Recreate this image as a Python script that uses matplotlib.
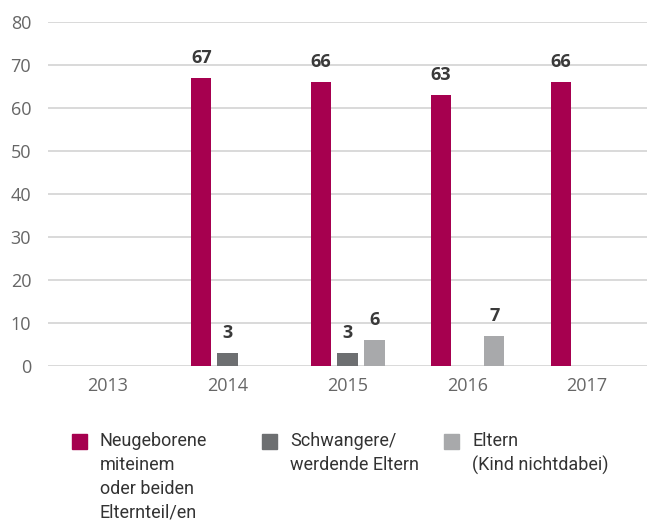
import matplotlib.pyplot as plt
from matplotlib.patches import Rectangle
import numpy as np

years = ['2013', '2014', '2015', '2016', '2017']
neugeborene = [0, 67, 66, 63, 66]
schwangere = [0, 3, 3, 0, 0]
eltern = [0, 0, 6, 7, 0]

labels = ['Neugeborene\nmiteinem\noder beiden\nElternteil/en',
          'Schwangere/\nwerdende Eltern',
          'Eltern\n(Kind nichtdabei)']
colors = ['#A6004F', '#6D6F71', '#A8A9AB']

plt.rcParams['font.family'] = ['Open Sans', 'DejaVu Sans']

fig = plt.figure(figsize=(6.47, 5.21), dpi=100)
ax = fig.add_axes([0.074, 0.2975, 0.926, 0.6605])

x = np.arange(len(years))
w = 0.17
offs = [-0.22, 0, 0.225]
for vals, off, c in zip([neugeborene, schwangere, eltern], offs, colors):
    for xi, v in zip(x, vals):
        if v == 0:
            continue
        ax.bar(xi + off, v, width=w, color=c, zorder=3)
        ax.annotate(str(v), (xi + off, v), xytext=(0, 8), textcoords='offset points',
                    ha='center', va='bottom', fontsize=13, fontweight='bold', color='#3a3a3a')

ax.set_xlim(-0.5, 4.5)
ax.set_ylim(0, 80)
ax.set_yticks(range(0, 81, 10))
ax.set_xticks(x)
ax.set_xticklabels(years)
ax.grid(axis='y', color='#D9D9D9', linewidth=1.4, zorder=0)
for s in ax.spines.values():
    s.set_visible(False)
ax.tick_params(length=0, labelsize=13, labelcolor='#666666')
ax.tick_params(axis='y', pad=12)
ax.tick_params(axis='x', pad=8)

# legend drawn by hand so the squares sit next to the first line
legend_x = [0.111, 0.405, 0.687]
for lx, lab, c in zip(legend_x, labels, colors):
    fig.add_artist(Rectangle((lx, 0.138), 0.023, 0.029, transform=fig.transFigure,
                             color=c))
    fig.text(lx + 0.043, 0.171, lab, ha='left', va='top', fontsize=13,
             color='#333333', linespacing=1.42,
             family=['Roboto', 'DejaVu Sans'])

fig.savefig('out.png', dpi=100)
